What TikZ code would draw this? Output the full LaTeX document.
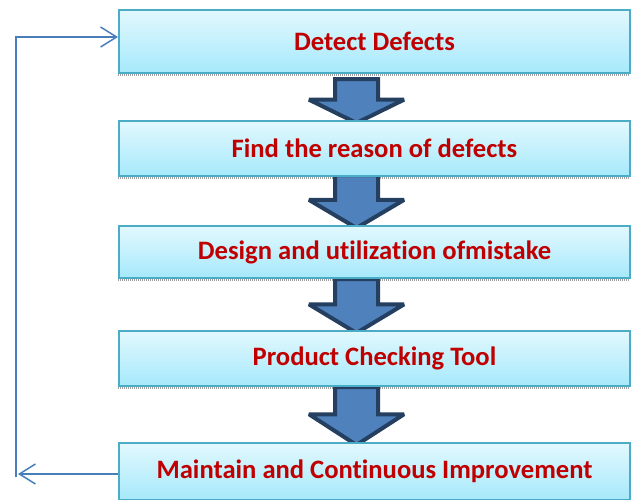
\documentclass[tikz,border=0pt]{standalone}
\usepackage{fontspec}
\setmainfont[Ligatures=NoCommon]{Carlito}
\usetikzlibrary{arrows.meta}
\definecolor{boxtop}{HTML}{E2F8FE}
\definecolor{boxbot}{HTML}{A6E9FB}
\definecolor{boxline}{HTML}{4BACC6}
\definecolor{txtred}{HTML}{C00000}
\definecolor{arrfill}{HTML}{4F81BD}
\definecolor{arrline}{HTML}{243F60}
\definecolor{fbline}{HTML}{4A7EBB}
\tikzset{
  x=1pt, y=-1pt,
  stepbox/.style={draw=boxline, line width=2pt, top color=boxtop, bottom color=boxbot,
    minimum width=511pt, anchor=north west, inner sep=0pt,
    font=\fontsize{26.6}{29}\selectfont\bfseries, text=txtred},
  boxshadow/.style={draw=gray!75, line width=3pt, dash pattern=on 1pt off 1pt},
  blockarrow/.style={draw=arrline, line width=4pt, fill=arrfill, line join=miter, miter limit=3},
  fb/.style={draw=fbline, line width=1.5pt, -{Straight Barb[length=16pt,width=20pt,line width=1.5pt]}},
}
\newcommand{\downarrowshape}[2]{% top, tip
  \path[blockarrow] (335,#1) -- (378,#1) -- (378,{#1+0.47*(#2-#1)}) -- (404,{#1+0.47*(#2-#1)})
    -- (356.5,#2) -- (309,{#1+0.47*(#2-#1)}) -- (335,{#1+0.47*(#2-#1)}) -- cycle;
}
\begin{document}
\begin{tikzpicture}
\useasboundingbox (0,0) rectangle (634,499);
\clip (0,0) rectangle (634,499);
% shadows
\foreach \b in {74.5,177.5,279.5,387.5}{
  \draw[boxshadow] (118,\b) -- (630,\b);
}
% block arrows
\downarrowshape{79}{123}
\downarrowshape{175}{228}
\downarrowshape{279}{333}
\downarrowshape{387}{445}
% boxes
\node[stepbox, minimum height=63pt] (d1) at (118,9) {Detect Defects};
\node[stepbox, minimum height=55pt] (d2) at (118,120) {Find the reason of defects};
\node[stepbox, minimum height=52pt] (d3) at (118,225) {Design and utilization ofmistake};
\node[stepbox, minimum height=55pt] (d4) at (118,330) {Product Checking Tool};
\node[stepbox, minimum height=57pt] (d5) at (118,442) {Maintain and Continuous Improvement};
% feedback connector
\coordinate (ylow) at (0,474);
\coordinate (ytop) at (0,37);
\coordinate (fbend) at (18,474);
\coordinate (fbstart) at (16,477);
\draw[fb] (d5.west |- ylow) -- (fbend);
\draw[fb] (fbstart) |- (d1.west |- ytop);
\end{tikzpicture}
\end{document}
